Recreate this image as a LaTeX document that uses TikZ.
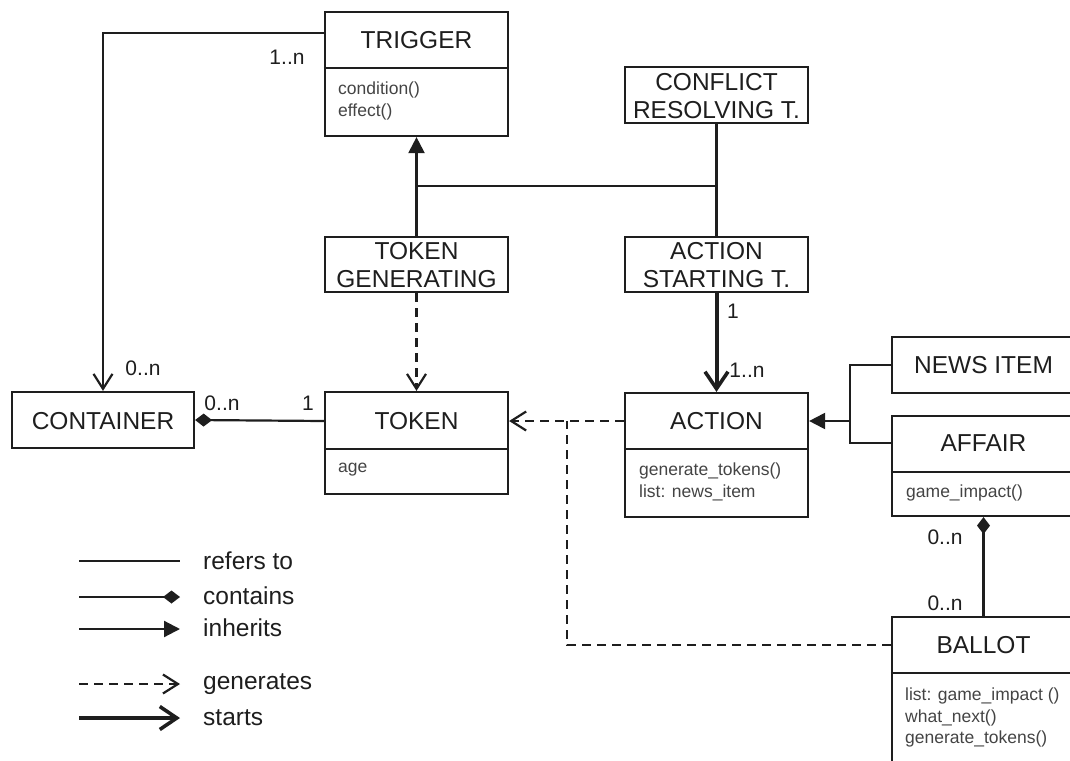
\documentclass[tikz,border=0pt]{standalone}
\usepackage{fontspec}
\setmainfont{Liberation Sans}
\usetikzlibrary{arrows.meta}
\definecolor{ink}{HTML}{1E1E1E}
\definecolor{soft}{HTML}{444444}
\tikzset{
  box/.style={draw=ink, line width=2.2pt, minimum width=183pt, inner sep=0pt},
  title/.style={text=ink, font=\fontsize{24.5}{28}\selectfont, align=center, inner sep=0pt},
  methods/.style={text=soft, font=\fontsize{17.5}{21.5}\selectfont, align=left, anchor=north west, inner sep=0pt},
  mult/.style={text=ink, font=\fontsize{21}{24}\selectfont, inner sep=0pt},
  legtext/.style={text=ink, font=\fontsize{24.5}{28}\selectfont, anchor=west, inner sep=0pt},
  link/.style={draw=ink, line width=2.2pt},
  refers/.style={link, -{Straight Barb[length=15pt,width=19pt,line width=2.2pt]}},
  inherits/.style={link, -{Triangle[length=16pt,width=16pt]}},
  contains/.style={link, {Diamond[length=17pt,width=13pt]}-},
  generates/.style={link, dash pattern=on 9pt off 6pt, -{Straight Barb[length=15pt,width=19pt,line width=2.2pt]}},
  dashlink/.style={link, dash pattern=on 9pt off 6pt},
  starts/.style={draw=ink, line width=4pt, -{Straight Barb[length=17pt,width=23pt,line width=3.6pt]}},
}
\begin{document}
\begin{tikzpicture}[x=1pt, y=-1pt]
\useasboundingbox (0,0) rectangle (1070,760);
\clip (0,0) rectangle (1070,760);

% ---- class boxes ----
\node[box, minimum height=124pt] (trig) at (416.5,74) {};
\node[title] (trigT) at (416.5,40) {TRIGGER};
\draw[link] (trig.west |- 0,68) -- (trig.east |- 0,68);
\node[methods] (trigM) at (338,82) {condition()\\effect()};

\node[box, minimum height=56pt] (confl) at (716.5,95) {};
\node[title] (conflT) at (716.5,96) {CONFLICT\\RESOLVING T.};

\node[box, minimum height=55pt] (tokgen) at (416.5,264.5) {};
\node[title] (tokgenT) at (416.5,265) {TOKEN\\GENERATING};

\node[box, minimum height=55pt] (actstart) at (716.5,264.5) {};
\node[title] (actstartT) at (716.5,265) {ACTION\\STARTING T.};

\node[box, minimum width=182pt, minimum height=56pt] (cont) at (103,420) {};
\node[title] (contT) at (103,421) {CONTAINER};

\node[box, minimum height=102pt] (token) at (416.5,443) {};
\node[title] (tokenT) at (416.5,421) {TOKEN};
\draw[link] (token.west |- 0,449) -- (token.east |- 0,449);
\node[methods] (tokenM) at (338,463) {age};

\node[box, minimum height=124pt] (action) at (716.5,455) {};
\node[title] (actionT) at (716.5,421) {ACTION};
\draw[link] (action.west |- 0,449) -- (action.east |- 0,449);
\node[methods] (actionM) at (639,463) {generate\_tokens()\\list: news\_item};

\node[box, minimum height=56pt] (news) at (983.5,365) {};
\node[title] (newsT) at (983.5,365) {NEWS ITEM};

\node[box, minimum height=100pt] (affair) at (983.5,466) {};
\node[title] (affairT) at (983.5,443) {AFFAIR};
\draw[link] (affair.west |- 0,472) -- (affair.east |- 0,472);
\node[methods] (affairM) at (906,485) {game\_impact()};

\node[box, minimum height=153pt] (ballot) at (983.5,693.5) {};
\node[title] (ballotT) at (983.5,645) {BALLOT};
\draw[link] (ballot.west |- 0,673) -- (ballot.east |- 0,673);
\node[methods] (ballotM) at (905,688) {list: game\_impact ()\\what\_next()\\generate\_tokens()};

% ---- connectors ----
\draw[refers] (trig.west |- 0,33) -| (cont.north);
\node[mult] (m1) at (287,57) {1..n};
\node[mult] (m2) at (143,368) {0..n};

\draw[inherits] (tokgen.north) -- (trig.south);
\draw[link] (tokgen.north |- 0,186) -- (confl.south |- 0,186);
\draw[link] (confl.south) -- (actstart.north);

\draw[generates] (tokgen.south) -- (token.north);
\draw[starts] (actstart.south) -- (action.north);
\node[mult] (m3) at (733,311) {1};
\node[mult] (m4) at (747,370) {1..n};

\draw[contains] (cont.east) -- (token.west |- tokenT);
\node[mult] (m5) at (222,403) {0..n};
\node[mult] (m6) at (308,403) {1};

\draw[generates] (action.west |- actionT) -- (token.east |- tokenT);
\coordinate (gj) at (567,421);
\draw[dashlink] (ballot.west |- ballotT) -| (gj);

\coordinate (br) at (850,421);
\draw[link] (news.west) -| (br |- affairT) -- (affair.west |- affairT);
\draw[inherits] (br) -- (action.east |- actionT);

\draw[contains] (affair.south) -- (ballot.north);
\node[mult] (m7) at (945,537) {0..n};
\node[mult] (m8) at (945,603) {0..n};

% ---- legend ----
\coordinate (l1a) at (79,561);  \coordinate (l1b) at (180,561);
\coordinate (l2a) at (79,597);  \coordinate (l2b) at (180,597);
\coordinate (l3a) at (79,629);  \coordinate (l3b) at (180,629);
\coordinate (l4a) at (79,684);  \coordinate (l4b) at (180,684);
\coordinate (l5a) at (79,718);  \coordinate (l5b) at (180,718);
\draw[link] (l1a) -- (l1b);
\draw[link, -{Diamond[length=17pt,width=13pt]}] (l2a) -- (l2b);
\draw[inherits] (l3a) -- (l3b);
\draw[generates] (l4a) -- (l4b);
\draw[starts] (l5a) -- (l5b);
\node[legtext] (t1) at (203,561) {refers to};
\node[legtext] (t2) at (203,596) {contains};
\node[legtext] (t3) at (203,628) {inherits};
\node[legtext] (t4) at (203,684) {generates};
\node[legtext] (t5) at (203,718) {starts};
\end{tikzpicture}
\end{document}
